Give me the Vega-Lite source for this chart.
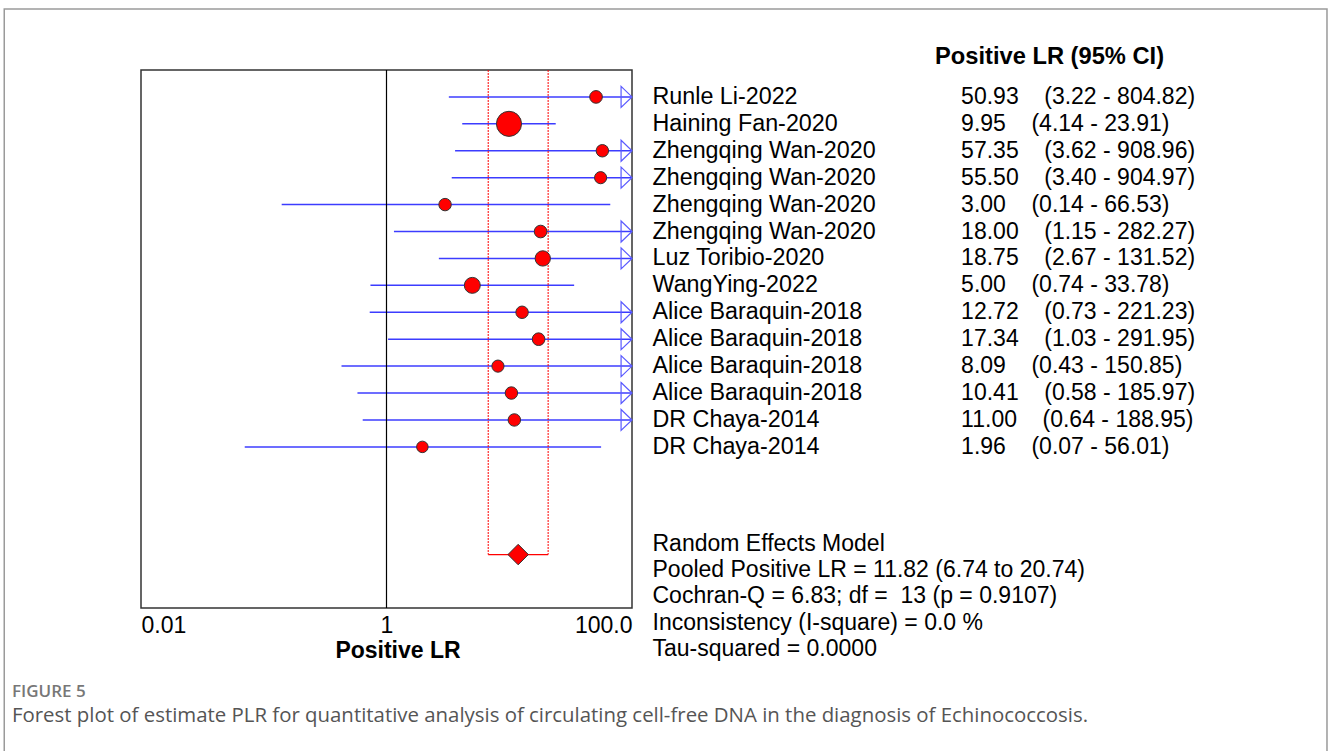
{
  "$schema": "https://vega.github.io/schema/vega-lite/v6.json",
  "width": 491,
  "height": 538,
  "autosize": {"type": "none"},
  "padding": {"left": 141, "top": 70, "right": 696, "bottom": 143},
  "background": "white",
  "config": {
    "view": {"stroke": "#333333", "strokeWidth": 1.5},
    "font": "Liberation Sans"
  },
  "datasets": {
    "studies": [
      {"row": 1, "study": "Runle Li-2022", "lr": 50.93, "lo": 3.22, "hi": 804.82, "w": 6.4},
      {"row": 2, "study": "Haining Fan-2020", "lr": 9.95, "lo": 4.14, "hi": 23.91, "w": 25.2},
      {"row": 3, "study": "Zhengqing Wan-2020", "lr": 57.35, "lo": 3.62, "hi": 908.96, "w": 6.2},
      {"row": 4, "study": "Zhengqing Wan-2020", "lr": 55.5, "lo": 3.4, "hi": 904.97, "w": 5.9},
      {"row": 5, "study": "Zhengqing Wan-2020", "lr": 3.0, "lo": 0.14, "hi": 66.53, "w": 6.2},
      {"row": 6, "study": "Zhengqing Wan-2020", "lr": 18.0, "lo": 1.15, "hi": 282.27, "w": 6.4},
      {"row": 7, "study": "Luz Toribio-2020", "lr": 18.75, "lo": 2.67, "hi": 131.52, "w": 9.4},
      {"row": 8, "study": "WangYing-2022", "lr": 5.0, "lo": 0.74, "hi": 33.78, "w": 10.2},
      {"row": 9, "study": "Alice Baraquin-2018", "lr": 12.72, "lo": 0.73, "hi": 221.23, "w": 6.2},
      {"row": 10, "study": "Alice Baraquin-2018", "lr": 17.34, "lo": 1.03, "hi": 291.95, "w": 6.4},
      {"row": 11, "study": "Alice Baraquin-2018", "lr": 8.09, "lo": 0.43, "hi": 150.85, "w": 5.9},
      {"row": 12, "study": "Alice Baraquin-2018", "lr": 10.41, "lo": 0.58, "hi": 185.97, "w": 6.2},
      {"row": 13, "study": "DR Chaya-2014", "lr": 11.0, "lo": 0.64, "hi": 188.95, "w": 6.2},
      {"row": 14, "study": "DR Chaya-2014", "lr": 1.96, "lo": 0.07, "hi": 56.01, "w": 5.3}
    ],
    "pooled": [
      {"row": 18, "label": "Random Effects Model", "lr": 11.82, "lo": 6.74, "hi": 20.74}
    ]
  },
  "layer": [
    {
      "data": {"name": "studies"},
      "transform": [{"calculate": "min(datum.hi, 100)", "as": "hic"}],
      "mark": {"type": "rule", "color": "#3c3cff", "strokeWidth": 1.5},
      "encoding": {
        "x": {
          "field": "lo", "type": "quantitative",
          "scale": {"type": "log", "domain": [0.01, 100], "nice": false},
          "axis": {
            "values": [0.01, 1, 100],
            "labelExpr": "datum.value >= 100 ? '100.0' : datum.value >= 1 ? '1' : '0.01'",
            "labelFlush": true,
            "ticks": false,
            "domain": false,
            "grid": false,
            "labelFont": "Liberation Sans",
            "labelFontSize": 23,
            "labelColor": "black",
            "labelPadding": 6,
            "title": "Positive LR",
            "titleFont": "Liberation Sans",
            "titleFontSize": 23,
            "titleFontWeight": "bold",
            "titleColor": "black",
            "titlePadding": 2,
            "titleX": 256.5
          }
        },
        "x2": {"field": "hic"},
        "y": {"field": "row", "type": "quantitative", "scale": {"domain": [0, 19.985], "reverse": true, "nice": false, "zero": false}, "axis": null}
      }
    },
    {
      "data": {"values": [{"ref": 1}]},
      "mark": {"type": "rule", "color": "black", "strokeWidth": 1.2},
      "encoding": {
        "x": {"field": "ref", "type": "quantitative"}
      }
    },
    {
      "data": {"name": "studies"},
      "transform": [{"filter": "datum.hi > 100"}, {"calculate": "min(datum.hi, 100)", "as": "hic"}],
      "mark": {"type": "point", "shape": "M-1.04,-1L0,0L-1.04,1Z", "filled": false, "stroke": "#5a5aff", "strokeWidth": 1.2, "size": 441, "opacity": 1},
      "encoding": {
        "x": {"field": "hic", "type": "quantitative"},
        "y": {"field": "row", "type": "quantitative"}
      }
    },
    {
      "data": {"name": "pooled"},
      "transform": [{"fold": ["lo", "hi"], "as": ["bound", "bx"]}, {"calculate": "0", "as": "top"}],
      "mark": {"type": "rule", "color": "#ff0000", "strokeWidth": 1, "strokeDash": [2, 1]},
      "encoding": {
        "x": {"field": "bx", "type": "quantitative"},
        "y": {"field": "top", "type": "quantitative"},
        "y2": {"field": "row"}
      }
    },
    {
      "data": {"name": "pooled"},
      "mark": {"type": "rule", "color": "#ff0000", "strokeWidth": 1.2},
      "encoding": {
        "x": {"field": "lo", "type": "quantitative"},
        "x2": {"field": "hi"},
        "y": {"field": "row", "type": "quantitative"}
      }
    },
    {
      "data": {"name": "studies"},
      "mark": {"type": "circle", "fill": "#ff0000", "stroke": "#333333", "strokeWidth": 1, "opacity": 1},
      "encoding": {
        "x": {"field": "lr", "type": "quantitative"},
        "y": {"field": "row", "type": "quantitative"},
        "size": {"field": "w", "type": "quantitative", "scale": {"domain": [0, 25], "range": [0, 625]}, "legend": null}
      }
    },
    {
      "data": {"name": "pooled"},
      "mark": {"type": "point", "shape": "diamond", "filled": true, "fill": "#ff0000", "stroke": "#333333", "strokeWidth": 1, "size": 420, "opacity": 1},
      "encoding": {
        "x": {"field": "lr", "type": "quantitative"},
        "y": {"field": "row", "type": "quantitative"}
      }
    },
    {
      "data": {"name": "studies"},
      "mark": {"type": "text", "align": "left", "baseline": "middle", "fontSize": 23.3, "color": "black", "font": "Liberation Sans"},
      "encoding": {
        "x": {"datum": 146.9, "type": "quantitative"},
        "y": {"field": "row", "type": "quantitative"},
        "text": {"field": "study", "type": "nominal"}
      }
    },
    {
      "data": {"name": "studies"},
      "transform": [
        {"calculate": "format(datum.lr, '.2f') + '\u00a0\u00a0\u00a0\u00a0(' + format(datum.lo, '.2f') + ' - ' + format(datum.hi, '.2f') + ')'", "as": "txt"}
      ],
      "mark": {"type": "text", "align": "left", "baseline": "middle", "fontSize": 23, "color": "black", "font": "Liberation Sans"},
      "encoding": {
        "x": {"datum": 48000, "type": "quantitative"},
        "y": {"field": "row", "type": "quantitative"},
        "text": {"field": "txt", "type": "nominal"}
      }
    },
    {
      "data": {"values": [{"t": "Positive LR (95% CI)"}]},
      "mark": {"type": "text", "align": "left", "baseline": "middle", "fontSize": 23.7, "fontWeight": "bold", "color": "black", "font": "Liberation Sans"},
      "encoding": {
        "x": {"datum": 29400, "type": "quantitative"},
        "y": {"datum": -0.5, "type": "quantitative"},
        "text": {"field": "t", "type": "nominal"}
      }
    },
    {
      "data": {"values": [{"t": ["Random Effects Model", "Pooled Positive LR = 11.82 (6.74 to 20.74)", "Cochran-Q = 6.83; df =\u00a0 13 (p = 0.9107)", "Inconsistency (I-square) = 0.0 %", "Tau-squared = 0.0000"]}]},
      "mark": {"type": "text", "align": "left", "baseline": "middle", "fontSize": 23, "lineHeight": 26.3, "color": "black", "font": "Liberation Sans"},
      "encoding": {
        "x": {"datum": 146.9, "type": "quantitative"},
        "y": {"datum": 17.6, "type": "quantitative"},
        "text": {"field": "t"}
      }
    },
    {
      "data": {"values": [{"t": "FIGURE 5"}]},
      "mark": {"type": "text", "align": "left", "baseline": "middle", "fontSize": 17, "fontWeight": 600, "color": "#777777", "font": "Open Sans"},
      "encoding": {
        "x": {"datum": 0.000889, "type": "quantitative"},
        "y": {"datum": 23.1, "type": "quantitative"},
        "text": {"field": "t", "type": "nominal"}
      }
    },
    {
      "data": {"values": [{"t": "Forest plot of estimate PLR for quantitative analysis of circulating cell-free DNA in the diagnosis of Echinococcosis."}]},
      "mark": {"type": "text", "align": "left", "baseline": "middle", "fontSize": 20.4, "color": "#555555", "font": "Open Sans"},
      "encoding": {
        "x": {"datum": 0.000889, "type": "quantitative"},
        "y": {"datum": 24.0, "type": "quantitative"},
        "text": {"field": "t", "type": "nominal"}
      }
    },
    {
      "data": {"values": [{"part": "figure frame"}]},
      "transform": [
        {"calculate": "0.000769", "as": "fx0"},
        {"calculate": "45900000", "as": "fx1"},
        {"calculate": "-2.266", "as": "fy0"},
        {"calculate": "27", "as": "fy1"}
      ],
      "mark": {"type": "rect", "filled": false, "fill": null, "stroke": "#9a9a9a", "strokeWidth": 1.5},
      "encoding": {
        "x": {"field": "fx0", "type": "quantitative"},
        "x2": {"field": "fx1"},
        "y": {"field": "fy0", "type": "quantitative"},
        "y2": {"field": "fy1"}
      }
    }
  ]
}
